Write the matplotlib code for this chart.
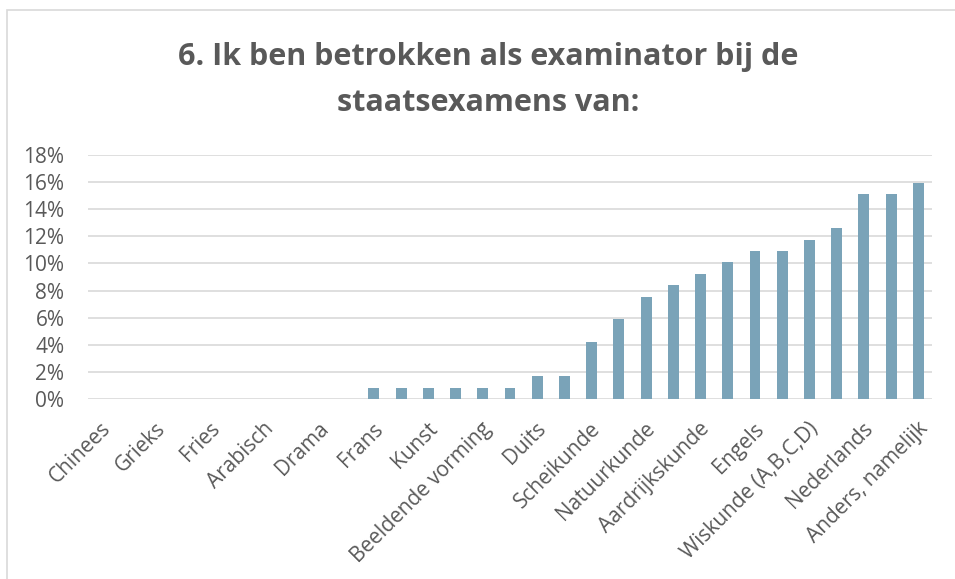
import matplotlib
matplotlib.use("Agg")
import matplotlib.pyplot as plt
import numpy as np
from matplotlib.patches import Rectangle
from matplotlib.ticker import PercentFormatter

plt.rcParams['font.family'] = ['Open Sans', 'DejaVu Sans']

title = "6. Ik ben betrokken als examinator bij de\nstaatsexamens van:"
# every other category label is shown on the axis (31 categories in total)
shown_labels = ["Chinees", "Grieks", "Fries", "Arabisch", "Drama", "Frans", "Kunst",
                "Beeldende vorming", "Duits", "Scheikunde", "Natuurkunde",
                "Aardrijkskunde", "Engels", "Wiskunde (A,B,C,D)", "Nederlands",
                "Anders, namelijk"]
values = [0, 0, 0, 0, 0, 0, 0, 0, 0, 0,
          0.84, 0.84, 0.84, 0.84, 0.84, 0.84,
          1.68, 1.68, 4.20, 5.88, 7.56, 8.40, 9.24, 10.08, 10.92, 10.92,
          11.76, 12.61, 15.13, 15.13, 15.97]
yticks = [0, 2, 4, 6, 8, 10, 12, 14, 16, 18]

W, H = 955, 579
fig = plt.figure(figsize=(W / 100, H / 100), dpi=100)
fig.patches.append(Rectangle((7 / W, -0.1), 1.2, 1 - 10 / H + 0.1,
                             transform=fig.transFigure, fill=False,
                             edgecolor='#d9d9d9', linewidth=1.2))

ax = fig.add_axes([88 / W, 1 - 399 / H, (932 - 88) / W, (399 - 155) / H])
x = np.arange(len(values))
ax.bar(x, values, width=0.4, color='#7aa3b8', zorder=3)
ax.set_xlim(-0.5, len(values) - 0.5)
ax.set_ylim(0, 18)
ax.set_yticks(yticks)
ax.yaxis.set_major_formatter(PercentFormatter(decimals=0))
ax.grid(axis='y', color='#d9d9d9', linewidth=1.2, zorder=0)
for s in ax.spines.values():
    s.set_visible(False)
ax.tick_params(axis='both', length=0, labelsize=15, colors='#595959')
ax.tick_params(axis='y', pad=17)
ax.set_xticks(x[::2])
ax.set_xticklabels(shown_labels, rotation=45, ha='right', va='center',
                   rotation_mode='anchor')
for lab in ax.get_xticklabels():
    lab.set_transform(lab.get_transform() + matplotlib.transforms.ScaledTranslation(6 / 100, -22 / 100, fig.dpi_scale_trans))

fig.text(488 / W, 1 - 80 / H, title, ha='center', va='center', fontsize=22,
         fontweight='bold', color='#595959', linespacing=1.72)

fig.savefig('out.png', dpi=100)
